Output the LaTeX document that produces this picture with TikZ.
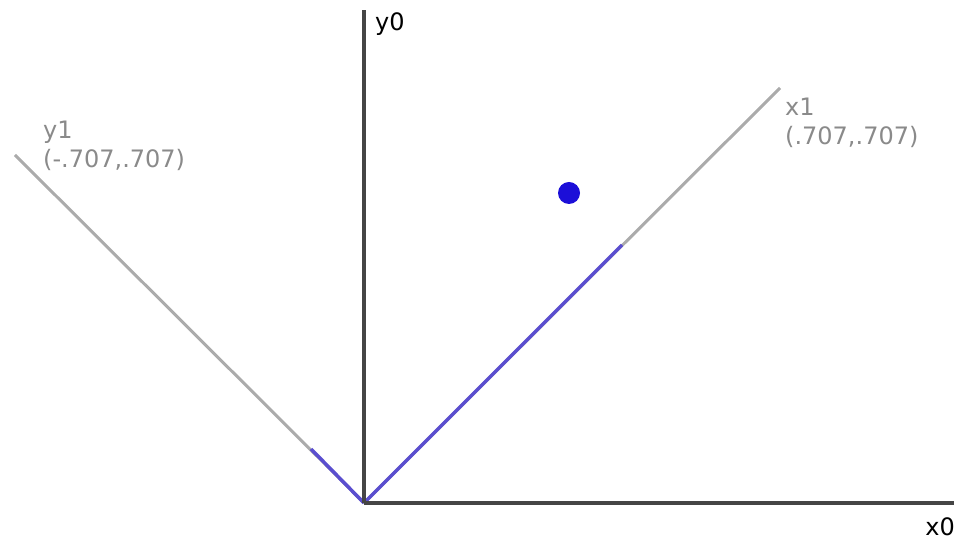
\documentclass[tikz,border=0pt]{standalone}
\usepackage{fontspec}
\setmainfont{DejaVu Sans}
\usepackage{xcolor}
\usetikzlibrary{positioning}

\definecolor{axisgray}{HTML}{454545}
\definecolor{framegray}{HTML}{ABABAB}
\definecolor{projblue}{HTML}{5A4ECF}
\definecolor{dotblue}{HTML}{1C0FD8}
\definecolor{labgray}{HTML}{8A8A8A}

\begin{document}
\begin{tikzpicture}[
  x=1pt, y=1pt,
  axis/.style={draw=axisgray, line width=4pt},
  frame/.style={draw=framegray, line width=3pt},
  proj/.style={draw=projblue, line width=3.5pt},
  lab/.style={inner sep=0pt, align=left, font=\fontsize{24}{29}\selectfont},
  pt/.style={circle, fill=dotblue, inner sep=0pt, minimum size=22pt}
]
  \useasboundingbox (0,0) rectangle (956,543);

  % origin and ends
  \coordinate (O) at (364,40);
  \coordinate (X0) at (954,40);
  \coordinate (Y0) at (364,533);
  \coordinate (X1) at (780,455);
  \coordinate (Y1) at (15,388);
  \coordinate (PX) at (622,298);
  \coordinate (PY) at (311,94);

  % rotated frame
  \draw[frame] (O) -- (X1);
  \draw[frame] (O) -- (Y1);

  % projections
  \draw[proj] (O) -- (PX);
  \draw[proj] (O) -- (PY);

  % base axes
  \draw[axis] (O) -- (X0);
  \draw[axis] (O) -- (Y0);

  \node[pt] (P) at (569,350) {};

  % labels
  \node[lab, anchor=north west] (LY0) at (375,531) {y0};
  \node[lab, anchor=north east] (LX0) at (955,26) {x0};
  \node[lab, anchor=north west, text=labgray] (LX1) at (785,445) {x1\\(.707,.707)};
  \node[lab, anchor=north west, text=labgray] (LY1) at (43,422) {y1\\(-.707,.707)};
\end{tikzpicture}
\end{document}
